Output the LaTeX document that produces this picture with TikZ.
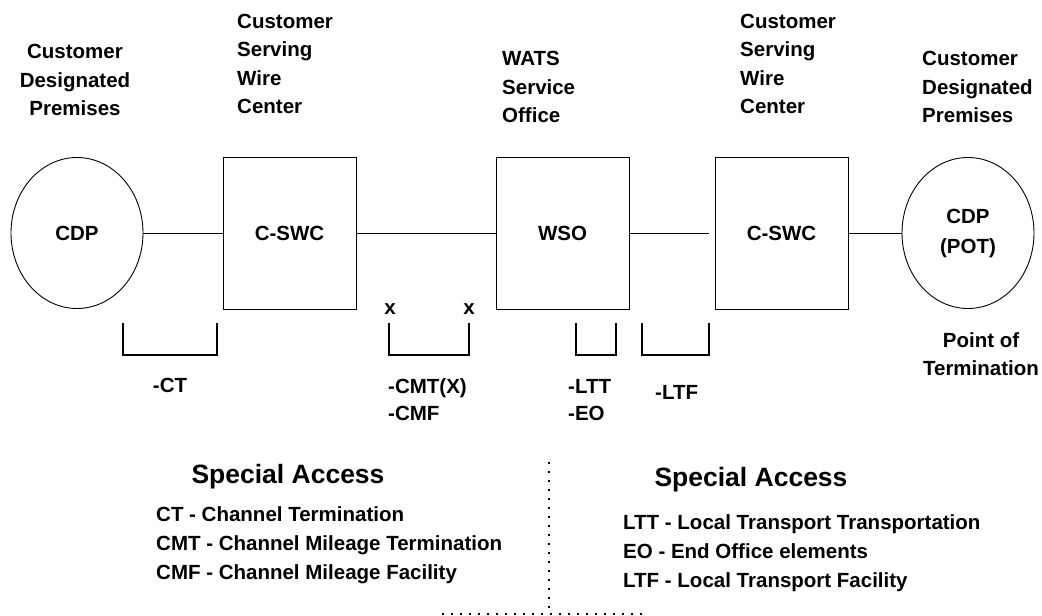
\documentclass[tikz,border=0pt]{standalone}
\usepackage{fontspec}
\setmainfont{Liberation Sans}
\usetikzlibrary{shapes.geometric}
\begin{document}
\begin{tikzpicture}[x=1pt,y=-1pt,
  lbl/.style={font=\fontsize{20.5}{28.5}\selectfont\bfseries, inner sep=0pt},
  listtext/.style={font=\fontsize{20.5}{29}\selectfont\bfseries, inner sep=0pt, align=left, anchor=west},
  pair/.style={font=\fontsize{20.5}{27}\selectfont\bfseries, inner sep=0pt, align=left, anchor=west},
  head/.style={font=\fontsize{26.5}{30}\selectfont\bfseries, inner sep=0pt},
  site/.style={draw, ellipse, line width=0.9pt, minimum width=132pt, minimum height=151pt, inner sep=0pt, font=\fontsize{20.5}{30}\selectfont\bfseries, align=center},
  office/.style={draw, rectangle, line width=0.9pt, minimum width=133pt, minimum height=152pt, inner sep=0pt, font=\fontsize{20.5}{28.5}\selectfont\bfseries},
  link/.style={line width=0.9pt},
  brace/.style={line width=1.6pt},
  dotline/.style={line width=1.6pt, dash pattern=on 1.6pt off 7.4pt}
]
\useasboundingbox (0,0) rectangle (1042,616);

% main chain
\node[site]   (cdp1)  at (77,233)  {CDP};
\node[office] (cswc1) at (289.5,233) {C-SWC};
\node[office] (wso)   at (562.5,233) {WSO};
\node[office] (cswc2) at (781.5,233) {C-SWC};
\node[site]   (cdp2)  at (968,233) {CDP\\(POT)};
\coordinate (gap) at (709,233);

\draw[link] (cdp1.east) -- (cswc1.west);
\draw[link] (cswc1.east) -- (wso.west);
\draw[link] (wso.east) -- (gap);
\draw[link] (cswc2.east) -- (cdp2.west);

% top labels
\node[lbl, align=center] (l1) at (75,80) {Customer\\Designated\\Premises};
\node[lbl, align=left, anchor=west] (l2) at (237,64) {Customer\\Serving\\Wire\\Center};
\node[lbl, align=left, anchor=west] (l3) at (502,87) {WATS\\Service\\Office};
\node[lbl, align=left, anchor=west] (l4) at (740,64) {Customer\\Serving\\Wire\\Center};
\node[lbl, align=left, anchor=west] (l5) at (922,87) {Customer\\Designated\\Premises};
\node[lbl, align=center] (pot) at (981,354) {Point of\\Termination};

% brackets
\draw[brace] (123,323) -- (123,355) -- (217,355) -- (217,323);
\draw[brace] (389,323) -- (389,355) -- (469,355) -- (469,323);
\draw[brace] (576,323) -- (576,355) -- (616,355) -- (616,323);
\draw[brace] (642,323) -- (642,355) -- (709,355) -- (709,323);

\node[lbl] (x1) at (390,309) {x};
\node[lbl] (x2) at (469,309) {x};

\node[lbl] (ct) at (170,385) {-CT};
\node[pair] (cmt) at (388,400) {-CMT(X)\\-CMF};
\node[pair] (ltt) at (568,400) {-LTT\\-EO};
\node[lbl, anchor=west] (ltf) at (655,392) {-LTF};

% legends
\node[head] (h1) at (288,477) {Special Access};
\node[listtext] (g1) at (156,545) {CT - Channel Termination\\CMT - Channel Mileage Termination\\CMF - Channel Mileage Facility};
\node[head] (h2) at (751,480) {Special Access};
\node[listtext] (g2) at (623,553) {LTT - Local Transport Transportation\\EO - End Office elements\\LTF - Local Transport Facility};

% dotted divider
\draw[dotline] (549,462) -- (549,614);
\draw[dotline] (442,614) -- (647,614);
\end{tikzpicture}
\end{document}
